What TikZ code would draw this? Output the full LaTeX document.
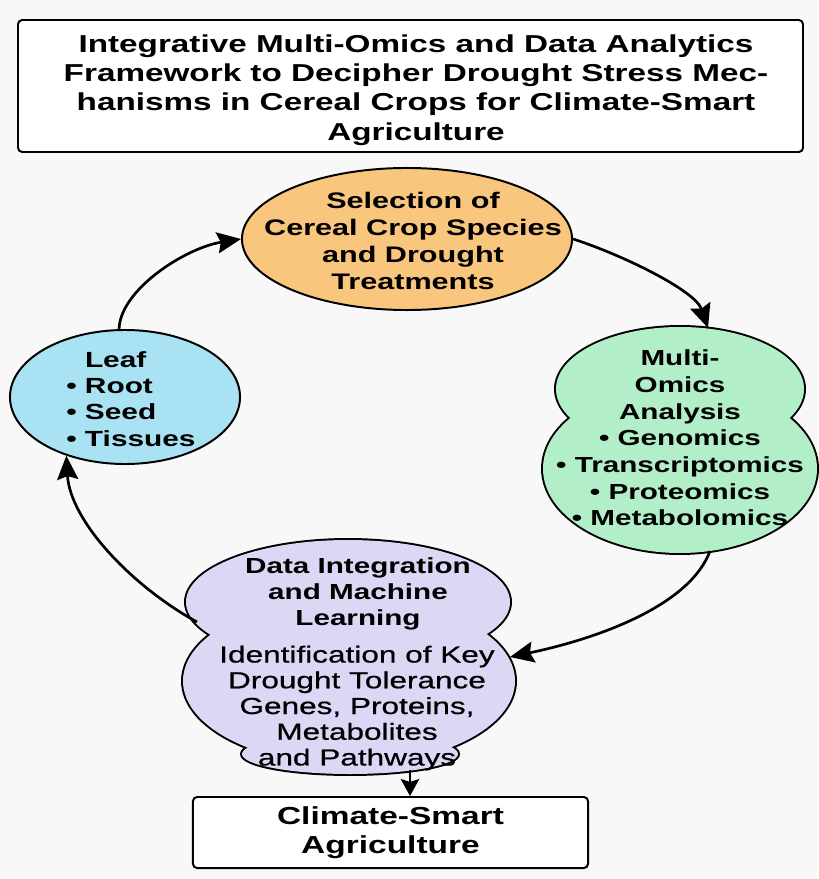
\documentclass[tikz,border=0pt]{standalone}
\usepackage{fontspec}
\setmainfont{Liberation Sans}[FakeStretch=1.36]
\newfontfamily\bodyfont{Liberation Sans}[FakeStretch=1.36, FakeBold=0.7]
\usetikzlibrary{shapes.geometric,arrows.meta}

\definecolor{bgpaper}{HTML}{F8F8F8}
\definecolor{selorange}{HTML}{F9C67E}
\definecolor{leafblue}{HTML}{A9E3F3}
\definecolor{omicsgreen}{HTML}{B2EEC8}
\definecolor{mlpurple}{HTML}{DDD7F5}

\tikzset{
  stage/.style={ellipse, draw, line width=1.4pt, inner sep=0pt},
  boxed/.style={draw, line width=1.4pt, rounded corners=3pt, fill=white, align=center},
  txt/.style={inner sep=0pt, align=center},
  flow/.style={-{Stealth[length=17pt,width=15pt,inset=2.5pt]}, line width=1.9pt},
  shortflow/.style={-{Stealth[length=12pt,width=13pt,inset=2pt]}, line width=2pt},
}

\begin{document}
\begin{tikzpicture}[x=0.025cm, y=-0.025cm]
\fill[bgpaper] (0,0) rectangle (817,879);

% title box
\draw[line width=1.4pt, rounded corners=3pt, fill=white] (18,20) rectangle (803,152);
\node[txt, font=\fontsize{17.4}{20.8}\selectfont\bfseries] (title) at (416,90)
  {Integrative Multi-Omics and Data Analytics\\Framework to Decipher Drought Stress Mec-\\hanisms in Cereal Crops for Climate-Smart\\Agriculture};

% selection (top) and tissues (left)
\node[stage, fill=selorange, minimum width=8.25cm, minimum height=3.55cm] (sel) at (407,239) {};
\node[txt, font=\fontsize{16}{19.2}\selectfont\bfseries] (seltext) at (413,241)
  {Selection of\\Cereal Crop Species\\and Drought\\Treatments};

\node[stage, fill=leafblue, minimum width=5.75cm, minimum height=3.35cm] (leaf) at (125,397) {};
\node[txt, align=left, anchor=west, font=\fontsize{15.6}{18.7}\selectfont\bfseries] (leaftext) at (66,399)
  {\hphantom{•\ }Leaf\\•\ Root\\•\ Seed\\•\ Tissues};

% multi-omics cloud: thick outline first, fill on top
\draw[line width=2.8pt] (680,389) ellipse [x radius=124, y radius=62]
  (680,468.6) ellipse [x radius=137, y radius=84.4];
\fill[omicsgreen] (680,389) ellipse [x radius=124, y radius=62]
  (680,468.6) ellipse [x radius=137, y radius=84.4];
\coordinate (omicsTop) at (708,328);
\coordinate (omicsBottom) at (710,551);
\node[txt, font=\fontsize{15.5}{19}\selectfont\bfseries] (omics) at (680,438)
  {Multi-\\Omics\\Analysis\\•\ Genomics\\•\ Transcriptomics\\•\ Proteomics\\•\ Metabolomics};

% integration cloud, same trick with three lobes
\draw[line width=2.8pt] (348,602) ellipse [x radius=162, y radius=62]
  (349,681) ellipse [x radius=166, y radius=84]
  (350,754) ellipse [x radius=108, y radius=20];
\fill[mlpurple] (348,602) ellipse [x radius=162, y radius=62]
  (349,681) ellipse [x radius=166, y radius=84]
  (350,754) ellipse [x radius=108, y radius=20];
\coordinate (mlRight) at (510,657);
\coordinate (mlLeft) at (197,622);
\coordinate (mlBottom) at (410,770);
\node[txt, font=\fontsize{15.5}{18.5}\selectfont\bfseries] (mlhead) at (358,594)
  {Data Integration\\and Machine\\Learning};
\node[txt, font=\fontsize{16.5}{18.3}\selectfont\bodyfont] (mlbody) at (357,708)
  {Identification of Key\\Drought Tolerance\\Genes, Proteins,\\Metabolites\\and Pathways};

% outcome
\node[boxed, minimum width=9.875cm, minimum height=1.775cm,
  font=\fontsize{17.5}{20.6}\selectfont\bfseries] (csa) at (390.5,832.5)
  {Climate-Smart\\Agriculture};

% cycle arrows
\draw[flow] (sel.east) .. controls (620,254) and (695,290) .. (omicsTop);
\draw[flow] (omicsBottom) .. controls (690,605) and (600,638) .. (mlRight);
\draw[flow] (mlLeft) .. controls (130,585) and (70,520) .. (leaf.225);
\draw[flow] (leaf.95) .. controls (120,290) and (185,248) .. (sel.west);
\draw[shortflow] (mlBottom) -- (mlBottom |- csa.north);

\end{tikzpicture}
\end{document}
